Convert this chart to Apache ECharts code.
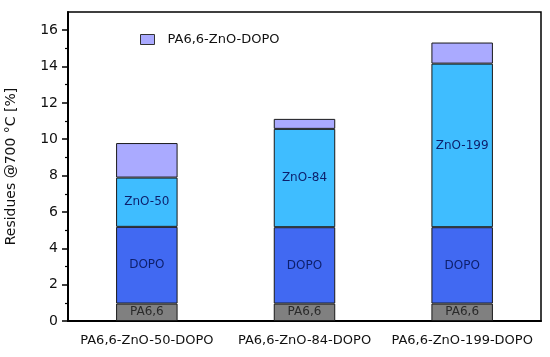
<!DOCTYPE html>
<html>
<head>
<meta charset="utf-8">
<script src="https://cdn.jsdelivr.net/npm/echarts@6/dist/echarts.min.js"></script>
<style>html,body{margin:0;padding:0;background:#fff}#c{width:550px;height:357px}</style>
</head>
<body>
<div id="c"></div>
<script>
const categories = ['PA6,6-ZnO-50-DOPO', 'PA6,6-ZnO-84-DOPO', 'PA6,6-ZnO-199-DOPO'];
const pa66 = [0.96, 0.96, 0.96];
const dopo = [4.22, 4.2, 4.2];
const zno = [2.71, 5.41, 9.0];
const rest = [1.9, 0.55, 1.16];
const znoLabels = ['ZnO-50', 'ZnO-84', 'ZnO-199'];
const yTicks = [0, 2, 4, 6, 8, 10, 12, 14, 16];
const yMinor = [1, 3, 5, 7, 9, 11, 13, 15];

const FONT = 'DejaVu Sans';
const chart = echarts.init(document.getElementById('c'));
const barStyle = (c) => ({ color: c, borderColor: '#1a1a1a', borderWidth: 1 });
const lbl = (fmt, col) => ({ show: true, position: 'inside', formatter: fmt, color: col, fontFamily: FONT, fontSize: 12 });

chart.setOption({
  animation: false,
  textStyle: { fontFamily: FONT },
  grid: { left: 68, right: 9, top: 12, bottom: 36, outerBoundsMode: 'none', containLabel: false, show: true, borderColor: '#000', borderWidth: 1.5, backgroundColor: 'transparent' },
  legend: {
    data: ['PA6,6-ZnO-DOPO'], left: 135, top: 28, icon: 'rect', itemWidth: 14, itemHeight: 10, itemGap: 10,
    itemStyle: { borderColor: '#333', borderWidth: 1 },
    textStyle: { fontFamily: FONT, fontSize: 13, color: '#111', padding: [0, 0, 0, 8] }
  },
  xAxis: {
    type: 'category', data: categories,
    axisLine: { lineStyle: { color: '#000', width: 2 } },
    axisTick: { alignWithLabel: true, length: 6, lineStyle: { color: '#000', width: 1.5 } },
    axisLabel: { interval: 0, fontFamily: FONT, fontSize: 13, color: '#111', margin: 13 }
  },
  yAxis: [{
    type: 'value', min: 0, max: 17,
    name: 'Residues @700 °C [%]', nameLocation: 'middle', nameGap: 50,
    nameTextStyle: { fontFamily: FONT, fontSize: 14, color: '#111' },
    axisLine: { show: true, lineStyle: { color: '#000', width: 2 } },
    axisTick: { show: true, length: 6, customValues: yTicks, lineStyle: { color: '#000', width: 1.5 } },
    axisLabel: { customValues: yTicks, fontFamily: FONT, fontSize: 14, color: '#111', margin: 10 },
    splitLine: { show: false }
  }, {
    type: 'value', min: 0, max: 17, position: 'left',
    axisLine: { show: false },
    axisTick: { show: true, length: 3, customValues: yMinor, lineStyle: { color: '#000', width: 1.2 } },
    axisLabel: { show: false },
    splitLine: { show: false }
  }],
  series: [
    { name: 'PA6,6', type: 'bar', stack: 't', data: pa66, barWidth: '39%', itemStyle: barStyle('#808080'), label: lbl('PA6,6', '#2a2a2a') },
    { name: 'DOPO', type: 'bar', stack: 't', data: dopo, itemStyle: barStyle('#4169F2'), label: lbl('DOPO', '#0d1f6b') },
    { name: 'ZnO', type: 'bar', stack: 't', data: zno, itemStyle: barStyle('#3FBDFF'), label: lbl((p) => znoLabels[p.dataIndex], '#0d1f6b') },
    { name: 'PA6,6-ZnO-DOPO', type: 'bar', stack: 't', data: rest, itemStyle: barStyle('#AAAAFF') }
  ]
});
</script>
</body>
</html>
